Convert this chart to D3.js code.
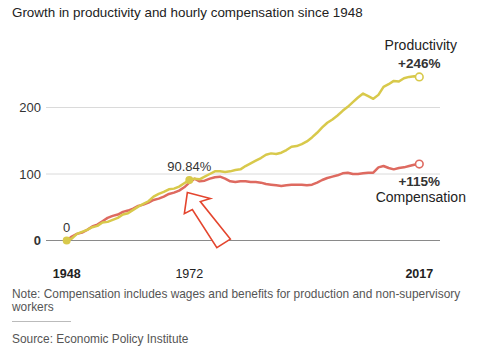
<!DOCTYPE html>
<html><head><meta charset="utf-8">
<script src="https://cdn.jsdelivr.net/npm/d3@7"></script>
<style>
body{margin:0;background:#fff;}
svg{display:block;font-family:"Liberation Sans",Arial,sans-serif;}
</style></head>
<body><svg id="c" width="500" height="347"></svg>
<script>
const years = d3.range(1948, 2018);
const productivity = [0,3,10,13,16,20,22,27,28,31,34,39,41,46,51,55,59,66,70,73,77,78,81,86,90.84,
  93,92,96,100,104,104,103,104,106,107,112,116,120,124,129,131,130,132,136,141,142,145,149,155,162,170,177,182,188,195,201,208,215,221,217,213,219,231,235,240,239,244,246,247,246];
const compensation = [0,6,10,12,16,21,24,29,34,37,39,43,45,48,52,54,57,61,63,66,70,72,75,80,87,
  93,89,90,93,95,96,93,89,88,89,89,88,88,87,85,84,83,82,83,84,84,84,83,84,87,91,94,96,98,101,102,100,100,101,102,102,110,112,109,107,109,110,112,114,115];
const yTicks = [0, 100, 200];
const xTickLabels = [1948, 1972, 2017];
const title = "Growth in productivity and hourly compensation since 1948";
const note1 = "Note: Compensation includes wages and benefits for production and non-supervisory";
const note2 = "workers";
const source = "Source: Economic Policy Institute";

const svg = d3.select("#c");
const x = d3.scaleLinear().domain([1948, 2017]).range([66.7, 419.3]);
const y = d3.scaleLinear().domain([0, 200]).range([240.5, 107.5]);
const yellow = "#d8c94b", red = "#de6a60";

svg.append("text").attr("x", 12).attr("y", 17).attr("font-size", 13.4).attr("fill", "#222").text(title);

// gridlines
svg.selectAll("line.grid").data(yTicks).enter().append("line")
  .attr("x1", 46).attr("x2", 440).attr("y1", d => y(d)).attr("y2", d => y(d))
  .attr("stroke", d => d === 0 ? "#8a8a8a" : "#dadada").attr("stroke-width", 1);
svg.selectAll("text.yl").data(yTicks).enter().append("text")
  .attr("x", 41).attr("y", d => y(d) + 4.5).attr("text-anchor", "end")
  .attr("font-size", 13).attr("fill", "#333").attr("font-weight", d => d === 0 ? "bold" : "normal")
  .text(d => d);
svg.selectAll("text.xl").data(xTickLabels).enter().append("text")
  .attr("x", d => x(d)).attr("y", 277.5).attr("text-anchor", "middle")
  .attr("font-size", 12.5).attr("fill", "#222").attr("font-weight", d => d === 1972 ? "normal" : "bold")
  .text(d => d);

const line = d3.line().x((d, i) => x(years[i])).y(d => y(d));
svg.append("path").datum(compensation).attr("d", line).attr("fill", "none")
  .attr("stroke", red).attr("stroke-width", 2.5).attr("stroke-linejoin", "round");
svg.append("path").datum(productivity).attr("d", line).attr("fill", "none")
  .attr("stroke", yellow).attr("stroke-width", 2.5).attr("stroke-linejoin", "round");

// dots
const i72 = years.indexOf(1972);
[[1948, 0], [1972, productivity[i72]]].forEach(([yr, v]) => {
  svg.append("circle").attr("cx", x(yr)).attr("cy", y(v)).attr("r", 4).attr("fill", yellow);
});
const last = years.length - 1;
svg.append("circle").attr("cx", x(2017)).attr("cy", y(productivity[last])).attr("r", 3.8)
  .attr("fill", "#fff").attr("stroke", yellow).attr("stroke-width", 1.6);
svg.append("circle").attr("cx", x(2017)).attr("cy", y(compensation[last])).attr("r", 3.8)
  .attr("fill", "#fff").attr("stroke", red).attr("stroke-width", 1.6);

// annotations
svg.append("text").attr("x", x(1948)).attr("y", y(0) - 9).attr("text-anchor", "middle")
  .attr("font-size", 13).attr("fill", "#333").text("0");
svg.append("text").attr("x", x(1972)).attr("y", y(productivity[i72]) - 9.5).attr("text-anchor", "middle")
  .attr("font-size", 13).attr("fill", "#333").text(productivity[i72].toFixed(2) + "%");
svg.append("text").attr("x", x(2017) + 1.5).attr("y", 50).attr("text-anchor", "middle")
  .attr("font-size", 14).attr("fill", "#222").text("Productivity");
svg.append("text").attr("x", x(2017)).attr("y", 68).attr("text-anchor", "middle")
  .attr("font-size", 13.5).attr("font-weight", "bold").attr("fill", "#333").text("+" + productivity[last] + "%");
svg.append("text").attr("x", x(2017)).attr("y", 185.5).attr("text-anchor", "middle")
  .attr("font-size", 13.5).attr("font-weight", "bold").attr("fill", "#333").text("+" + compensation[last] + "%");
svg.append("text").attr("x", x(2017) + 1.5).attr("y", 202).attr("text-anchor", "middle")
  .attr("font-size", 14).attr("fill", "#222").text("Compensation");

// arrow pointing at 1972
const ax = x(1972), ay = y(productivity[i72]);
const arrowPts = [[-2, 12.5], [21, 18.5], [11, 21.5], [41, 59], [27.5, 67.5], [3, 29.5], [-5, 33.5]]
  .map(([dx, dy]) => [ax + dx, ay + dy]);
svg.append("path").attr("d", d3.line()(arrowPts) + "Z")
  .attr("fill", "#fff").attr("stroke", "#e4452e").attr("stroke-width", 1.6).attr("stroke-linejoin", "miter");

// footer
svg.append("text").attr("x", 12).attr("y", 298).attr("font-size", 11.9).attr("fill", "#555").text(note1);
svg.append("text").attr("x", 12).attr("y", 311).attr("font-size", 11.9).attr("fill", "#555").text(note2);
svg.append("line").attr("x1", 12).attr("x2", 71).attr("y1", 321.5).attr("y2", 321.5).attr("stroke", "#bbb");
svg.append("text").attr("x", 12).attr("y", 342.5).attr("font-size", 11.9).attr("fill", "#555").text(source);
</script></body></html>
